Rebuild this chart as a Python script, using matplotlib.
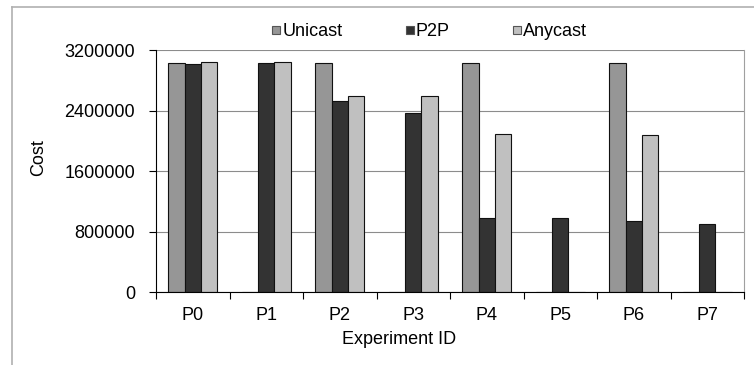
import matplotlib
matplotlib.use("Agg")
import matplotlib.pyplot as plt
from matplotlib.lines import Line2D
import numpy as np

plt.rcParams['font.family'] = ['Liberation Sans', 'DejaVu Sans']

experiments = ['P0', 'P1', 'P2', 'P3', 'P4', 'P5', 'P6', 'P7']
series_names = ['Unicast', 'P2P', 'Anycast']
unicast = [3030000, 0, 3030000, 0, 3030000, 0, 3030000, 0]
p2p = [3020000, 3030000, 2530000, 2367000, 987000, 978000, 939000, 899000]
anycast = [3040000, 3040000, 2596000, 2592000, 2093000, 0, 2084000, 0]
y_ticks = [0, 800000, 1600000, 2400000, 3200000]

colors = ['#969696', '#333333', '#c0c0c0']
FS = 13

fig = plt.figure(figsize=(7.54, 3.65), dpi=100)
ax = fig.add_axes([156 / 754, 1 - 292.3 / 365, 588 / 754, 242 / 365])

x = np.arange(len(experiments))
width = 0.22
for i, (vals, c, name) in enumerate(zip([unicast, p2p, anycast], colors, series_names)):
    ax.bar(x + (i - 1) * width, vals, width, color=c, edgecolor='#111111',
           linewidth=0.8, label=name, zorder=3)

ax.set_xlim(-0.5, len(experiments) - 0.5)
ax.set_ylim(0, 3200000)
ax.set_yticks(y_ticks)
ax.set_yticklabels([str(v) for v in y_ticks], fontsize=FS)
ax.yaxis.grid(True, color='#8c8c8c', linewidth=0.8, zorder=0)

# Category boundaries carry the ticks, labels sit in the middle
ax.set_xticks(np.arange(len(experiments) + 1) - 0.5)
ax.set_xticklabels([])
ax.set_xticks(x, minor=True)
ax.set_xticklabels(experiments, minor=True, fontsize=FS)
ax.tick_params(axis='x', which='major', length=5, width=0.8, direction='out')
ax.tick_params(axis='x', which='minor', length=0, pad=10.5)
ax.tick_params(axis='y', length=5, width=0.8, direction='out', pad=10)

ax.spines['left'].set_color('black')
ax.spines['bottom'].set_color('black')
ax.spines['top'].set_visible(False)
ax.spines['right'].set_color('#a0a0a0')
ax.spines['left'].set_zorder(4)
ax.spines['bottom'].set_zorder(4)

ax.set_ylabel('Cost', fontsize=FS)
ax.yaxis.set_label_coords((47 - 156) / 588, (292.3 - 158) / 242)
ax.set_xlabel('Experiment ID', fontsize=FS)
ax.xaxis.set_label_coords((399 - 156) / 588, (292.3 - 331) / 242)

# Square legend keys
handles = [Line2D([], [], linestyle='none', marker='s', markersize=5.4,
                  markerfacecolor=c, markeredgecolor='#555555', markeredgewidth=0.8)
           for c in colors]
fig.legend(handles, series_names, loc='center left',
           bbox_to_anchor=(271.9 / 754, 1 - 32 / 365), ncol=3,
           frameon=False, fontsize=FS, handlelength=0.5,
           handletextpad=0.1, columnspacing=3.45, borderpad=0, borderaxespad=0)

# Outer chart border
fig.add_artist(Line2D([12.3 / 754, 12.3 / 754], [0, 1 - 7.3 / 365],
                      transform=fig.transFigure, color='#b0b0b0', linewidth=1.2))
fig.add_artist(Line2D([12.3 / 754, 1], [1 - 7.3 / 365, 1 - 7.3 / 365],
                      transform=fig.transFigure, color='#b0b0b0', linewidth=1.2))

fig.savefig('out.png', dpi=100)
